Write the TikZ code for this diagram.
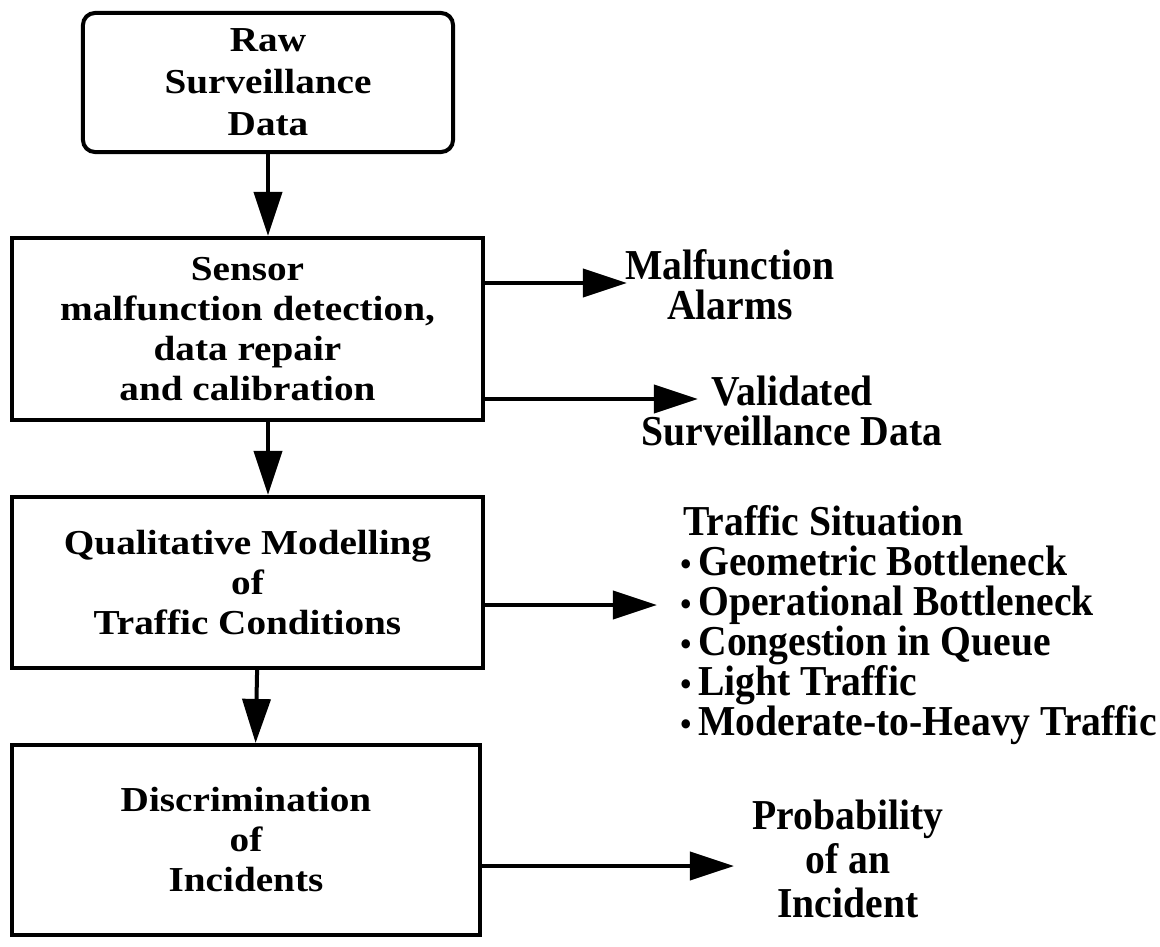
\documentclass[tikz,border=0pt]{standalone}
\usepackage{fontspec}
\setmainfont{Liberation Serif}
\newfontfamily\wideserif[FakeStretch=1.12]{Liberation Serif}
\newfontfamily\narrowfont[FakeStretch=0.93]{Liberation Serif}
\usetikzlibrary{arrows.meta}
\tikzset{>={Triangle[length=1.1cm,width=0.7cm]}}
\newcommand\itembullet{\kern-2pt{\fontsize{24}{24}\selectfont\textbullet}\kern5pt}

\begin{document}
\begin{tikzpicture}[x=0.025cm,y=-0.025cm,
    box/.style={draw,line width=1mm,align=center,inner sep=0pt,
      font=\wideserif\fontsize{24.9}{28.45}\selectfont\bfseries},
    side/.style={align=center,inner sep=0pt,
      font=\narrowfont\fontsize{30.3}{28.45}\selectfont\bfseries},
    flow/.style={->,line width=1mm}]
      \useasboundingbox (0,0) rectangle (1160,947);

      % main chain
      \node[box,rounded corners=3mm,minimum width=9.25cm,minimum height=3.475cm,
        font=\wideserif\fontsize{24.9}{29.9}\selectfont\bfseries] (raw) at (268,82.5) {Raw\\Surveillance\\Data};
      \node[box,minimum width=11.775cm,minimum height=4.55cm] (sensor) at (247.5,329) {Sensor\\malfunction detection,\\data repair\\and calibration};
      \node[box,minimum width=11.775cm,minimum height=4.275cm] (qual) at (247.5,582.5) {Qualitative Modelling\\of\\Traffic Conditions};
      \node[box,minimum width=11.7cm,minimum height=4.75cm] (disc) at (246,840) {Discrimination\\of\\Incidents};

      \draw[flow] (raw.south) -- (raw.south |- sensor.north);
      \draw[flow] (raw.south |- sensor.south) -- (raw.south |- qual.north);
      \draw[flow] ([xshift=2.4mm]qual.south) -- ([xshift=2.4mm]disc.north);

      % outputs
      \node[side] (alarms) at (730,285) {Malfunction\\Alarms};
      \node[side] (valid) at (792,411) {Validated\\Surveillance Data};
      \node[side,align=left,anchor=north west] (situation) at (683,505) {Traffic Situation\\
        \itembullet Geometric Bottleneck\\
        \itembullet Operational Bottleneck\\
        \itembullet Congestion in Queue\\
        \itembullet Light Traffic\\
        \itembullet Moderate-to-Heavy Traffic};
      \node[side,font=\narrowfont\fontsize{30.3}{31.3}\selectfont\bfseries] (prob) at (848,859) {Probability\\of an\\Incident};

      \coordinate (alarmtip) at (627,283);
      \coordinate (validtip) at (698,399);
      \coordinate (situationtip) at (657,605);
      \coordinate (probtip) at (734,866);

      \draw[flow] (sensor.east |- alarmtip) -- (alarmtip);
      \draw[flow] (sensor.east |- validtip) -- (validtip);
      \draw[flow] (qual.east |- situationtip) -- (situationtip);
      \draw[flow] (disc.east |- probtip) -- (probtip);
\end{tikzpicture}
\end{document}
